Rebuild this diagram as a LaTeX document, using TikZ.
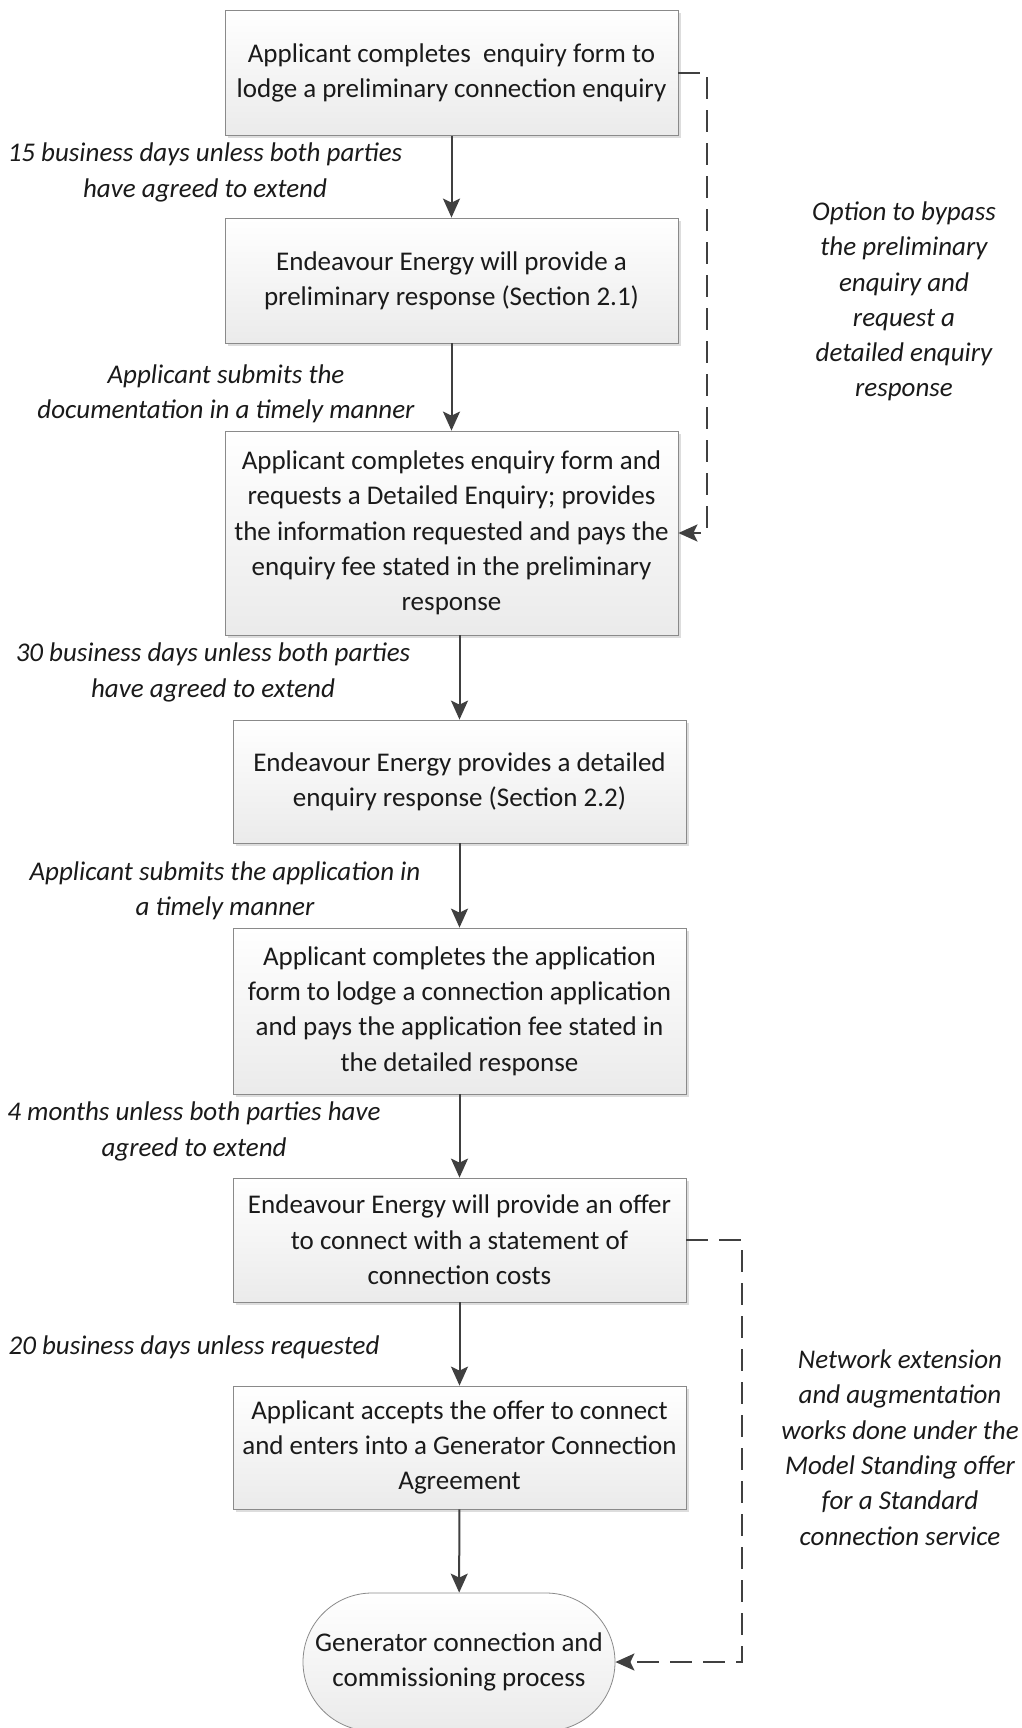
\documentclass[tikz,border=0pt]{standalone}
\usepackage{fontspec}
\setmainfont{Carlito}
\usetikzlibrary{arrows.meta,shadows,shapes.misc}
\definecolor{txt}{HTML}{1A1A1A}
\definecolor{edgec}{HTML}{8A8A8A}
\definecolor{arr}{HTML}{404040}
\begin{document}
\begin{tikzpicture}[x=1pt,y=-1pt,
  every node/.style={text=txt},
  box/.style={draw=edgec, line width=0.8pt, top color=white, bottom color=gray!16,
    drop shadow={shadow xshift=3pt, shadow yshift=-3pt, fill=gray!30, opacity=0.9},
    minimum width=453pt, align=center, font=\fontsize{27}{35.3}\selectfont, inner sep=0pt},
  term/.style={draw=edgec, line width=0.8pt, top color=white, bottom color=gray!16,
    rounded rectangle, minimum width=312pt, minimum height=138pt, align=center,
    font=\fontsize{27}{35.3}\selectfont, inner sep=0pt},
  lbl/.style={align=center, font=\fontsize{27}{35.3}\selectfont\itshape, inner sep=0pt},
  flow/.style={draw=arr, line width=2pt, -{Stealth[length=19pt,width=17pt,inset=4pt]}},
  dflow/.style={draw=arr, line width=2pt, dash pattern=on 22pt off 11pt, -{Stealth[length=19pt,width=17pt,inset=4pt]}}
]
\useasboundingbox (0,0) rectangle (1021,1728);

\node[box, minimum height=125pt] (b1) at (451.5,73) {Applicant completes~ enquiry form to\\lodge a preliminary connection enquiry};
\node[box, minimum height=125pt] (b2) at (451.5,280.5) {Endeavour Energy will provide a\\preliminary response (Section 2.1)};
\node[box, minimum height=204pt] (b3) at (451.5,533) {Applicant completes enquiry form and\\requests a Detailed Enquiry; provides\\the information requested and pays the\\enquiry fee stated in the preliminary\\response};
\node[box, minimum height=123pt] (b4) at (459.5,781.5) {Endeavour Energy provides a detailed\\enquiry response (Section 2.2)};
\node[box, minimum height=166pt] (b5) at (459.5,1011) {Applicant completes the application\\form to lodge a connection application\\and pays the application fee stated in\\the detailed response};
\node[box, minimum height=124pt] (b6) at (459.5,1240) {Endeavour Energy will provide an offer\\to connect with a statement of\\connection costs};
\node[box, minimum height=123pt] (b7) at (459.5,1447.5) {Applicant accepts the offer to connect\\and enters into a Generator Connection\\Agreement};
\node[term] (t) at (459,1662) {Generator connection and\\commissioning process};

\node[lbl] (l1) at (205,172.5) {15 business days unless both parties\\have agreed to extend};
\node[lbl] (l2) at (904,301.5) {Option to bypass\\the preliminary\\enquiry and\\request a\\detailed enquiry\\response};
\node[lbl] (l3) at (226,394) {Applicant submits the\\documentation in a timely manner};
\node[lbl] (l4) at (213,672.5) {30 business days unless both parties\\have agreed to extend};
\node[lbl] (l5) at (225,891) {Applicant submits the application in\\a timely manner};
\node[lbl] (l6) at (194,1131.5) {4 months unless both parties have\\agreed to extend};
\node[lbl] (l7) at (194,1347) {20 business days unless requested};
\node[lbl] (l8) at (900,1447.5) {Network extension\\and augmentation\\works done under the\\Model Standing offer\\for a Standard\\connection service};

\coordinate (d1) at (707,73);
\coordinate (d2) at (742,1240);

\draw[flow] (b1) -- (b2);
\draw[flow] (b2) -- (b3);
\draw[flow] (b3.south -| b4.north) -- (b4.north);
\draw[flow] (b4) -- (b5);
\draw[flow] (b5) -- (b6);
\draw[flow] (b6) -- (b7);
\draw[flow] (b7) -- (t);
\draw[dflow] (b1.east) -- (d1) |- (b3.east);
\draw[dflow] (b6.east) -- (d2) |- (t.east);
\end{tikzpicture}
\end{document}
